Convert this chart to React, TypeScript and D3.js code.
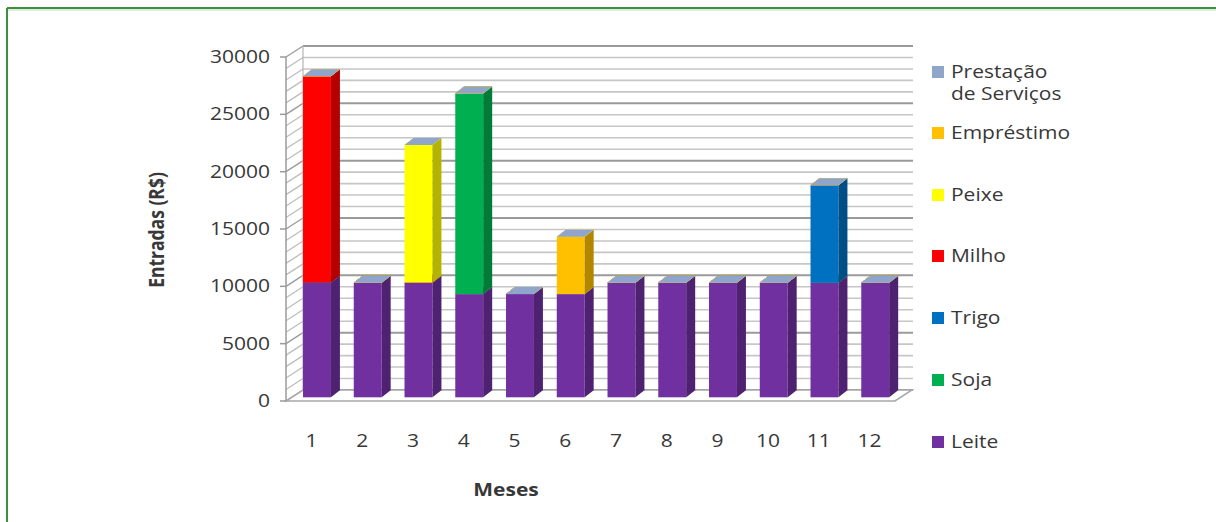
import React from "react";
import * as d3 from "d3";

// months and the stacked series (bottom to top)
const meses = ["1", "2", "3", "4", "5", "6", "7", "8", "9", "10", "11", "12"];
const leite = [10000, 10000, 10000, 9000, 9000, 9000, 10000, 10000, 10000, 10000, 10000, 10000];
const soja = [0, 0, 0, 17500, 0, 0, 0, 0, 0, 0, 0, 0];
const trigo = [0, 0, 0, 0, 0, 0, 0, 0, 0, 0, 8500, 0];
const milho = [18000, 0, 0, 0, 0, 0, 0, 0, 0, 0, 0, 0];
const peixe = [0, 0, 12000, 0, 0, 0, 0, 0, 0, 0, 0, 0];
const emprestimo = [0, 0, 0, 0, 0, 5000, 0, 0, 0, 0, 0, 0];
const prestacao = [0, 0, 0, 0, 0, 0, 0, 0, 0, 0, 0, 0];

const seriesKeys = ["Leite", "Soja", "Trigo", "Milho", "Peixe", "Empréstimo", "Prestação de Serviços"];
const seriesValues = [leite, soja, trigo, milho, peixe, emprestimo, prestacao];
const seriesColors = ["#7030A0", "#00B050", "#0070C0", "#FF0000", "#FFFF00", "#FFC000", "#8FA5CC"];
const yTicks = [0, 5000, 10000, 15000, 20000, 25000, 30000];

const W = 1216;
const H = 522;
const FONT = "'Open Sans', 'Liberation Sans', sans-serif";
const TXT = "#383838";
const SX = 1.2; // horizontal stretch of the original raster text

const x = d3.scaleBand<string>().domain(meses).range([286, 895]).paddingInner(0.45).paddingOuter(0.225);
const y = d3.scaleLinear().domain([0, 30000]).range([401, 57]);

// depth of the walls and of the bars
const WDX = 17, WDY = -11;
const OFX = 5.6, OFY = -3.7;
const BDX = 9, BDY = -7;

const rows = meses.map((m, i) => {
  const r: Record<string, any> = { mes: m };
  seriesKeys.forEach((k, j) => (r[k] = seriesValues[j][i]));
  return r;
});
const stacked = d3.stack<any>().keys(seriesKeys)(rows);

const shade = (c: string, k: number) => d3.color(c)!.darker(k).formatHex();

const T = ({ x: tx, y: ty, anchor = "start", bold = false, size = 17.5, children }: any) => (
  <text
    transform={`translate(${tx},${ty}) scale(${SX},1)`}
    textAnchor={anchor}
    fontFamily={FONT}
    fontSize={size}
    fontWeight={bold ? 700 : 400}
    fill={TXT}
  >
    {children}
  </text>
);

export default function App() {
  const minor = d3.range(0, 30001, 1000);
  const x0 = 286, x1 = 895;
  const legendItems = seriesKeys.map((k, i) => ({ k, c: seriesColors[i] })).reverse();
  const legendY = [72, 133, 195, 256, 318, 380, 442];

  return (
    <svg width={W} height={H} style={{ position: "absolute", left: 0, top: 0, display: "block" }}>
      <rect x={0} y={0} width={W} height={H} fill="#fff" />
      {/* frame */}
      <line x1={7} x2={W} y1={8} y2={8} stroke="#3f8f3f" strokeWidth={2} />
      <line x1={8} x2={W} y1={10} y2={10} stroke="#cfe8cf" strokeWidth={1.5} />
      <line x1={7} x2={7} y1={8} y2={H} stroke="#3f8f3f" strokeWidth={2} />

      {/* back wall gridlines and side-wall hatching */}
      {minor.map((v) => {
        const major = v % 5000 === 0;
        return (
          <g key={v}>
            <line
              x1={x0 + WDX} x2={x1 + WDX + 1} y1={y(v) + WDY} y2={y(v) + WDY}
              stroke={major ? "#9a9a9a" : "#c6c6c6"} strokeWidth={major ? 2 : 1.6}
            />
            <line
              x1={x0} x2={x0 + WDX} y1={y(v)} y2={y(v) + WDY}
              stroke={major ? "#9a9a9a" : "#bdbdbd"} strokeWidth={1.3}
            />
          </g>
        );
      })}
      <line x1={x0 + WDX} x2={x0 + WDX} y1={y(0) + WDY} y2={y(30000) + WDY} stroke="#b5b5b5" strokeWidth={1.2} />
      {/* floor */}
      <polygon
        points={`${x0},${y(0)} ${x1},${y(0)} ${x1 + WDX},${y(0) + WDY} ${x0 + WDX},${y(0) + WDY}`}
        fill="#fff" stroke="#a8a8a8" strokeWidth={1.5}
      />
      {/* front axis */}
      <line x1={x0} x2={x0} y1={y(0)} y2={y(30000)} stroke="#9a9a9a" strokeWidth={1.5} />
      {yTicks.map((v) => (
        <g key={v}>
          <line x1={x0 - 6} x2={x0} y1={y(v)} y2={y(v)} stroke="#9a9a9a" strokeWidth={1.5} />
          <T x={270} y={y(v) + 6} anchor="end">{v}</T>
        </g>
      ))}

      {/* bars */}
      {meses.map((m, i) => {
        const bx = (x(m) as number) + OFX;
        const bw = x.bandwidth();
        return (
          <g key={m}>
            {stacked.map((s, j) => {
              const [v0, v1] = s[i];
              const yb = y(v0) + OFY;
              const yt = y(v1) + OFY;
              const c = seriesColors[j];
              return (
                <g key={s.key}>
                  {v1 > v0 && (
                    <>
                      <rect x={bx} y={yt} width={bw} height={yb - yt} fill={c} />
                      <polygon
                        points={`${bx + bw},${yb} ${bx + bw + BDX},${yb + BDY} ${bx + bw + BDX},${yt + BDY} ${bx + bw},${yt}`}
                        fill={shade(c, 1)}
                      />
                    </>
                  )}
                  <polygon
                    points={`${bx},${yt} ${bx + bw},${yt} ${bx + bw + BDX},${yt + BDY} ${bx + BDX},${yt + BDY}`}
                    fill={j === seriesKeys.length - 1 ? c : d3.color(c)!.brighter(0.3).formatHex()}
                  />
                </g>
              );
            })}
          </g>
        );
      })}

      {/* x labels */}
      {meses.map((m) => (
        <T key={m} x={(x(m) as number) + x.bandwidth() / 2} y={447} anchor="middle">{m}</T>
      ))}

      {/* axis titles */}
      <T x={506} y={496} anchor="middle" bold>Meses</T>
      <text
        transform={`translate(164,230) rotate(-90) scale(1,${SX})`}
        textAnchor="middle" fontFamily={FONT} fontSize={17.5} fontWeight={700} fill={TXT}
      >
        Entradas (R$)
      </text>

      {/* legend */}
      {legendItems.map((d, i) => (
        <g key={d.k}>
          <rect x={932} y={legendY[i] - 6} width={12} height={12} fill={d.c} />
          {d.k === "Prestação de Serviços" ? (
            <>
              <T x={951} y={legendY[i] + 6}>Prestação</T>
              <T x={951} y={legendY[i] + 28}>de Serviços</T>
            </>
          ) : (
            <T x={951} y={legendY[i] + 6}>{d.k}</T>
          )}
        </g>
      ))}
    </svg>
  );
}
